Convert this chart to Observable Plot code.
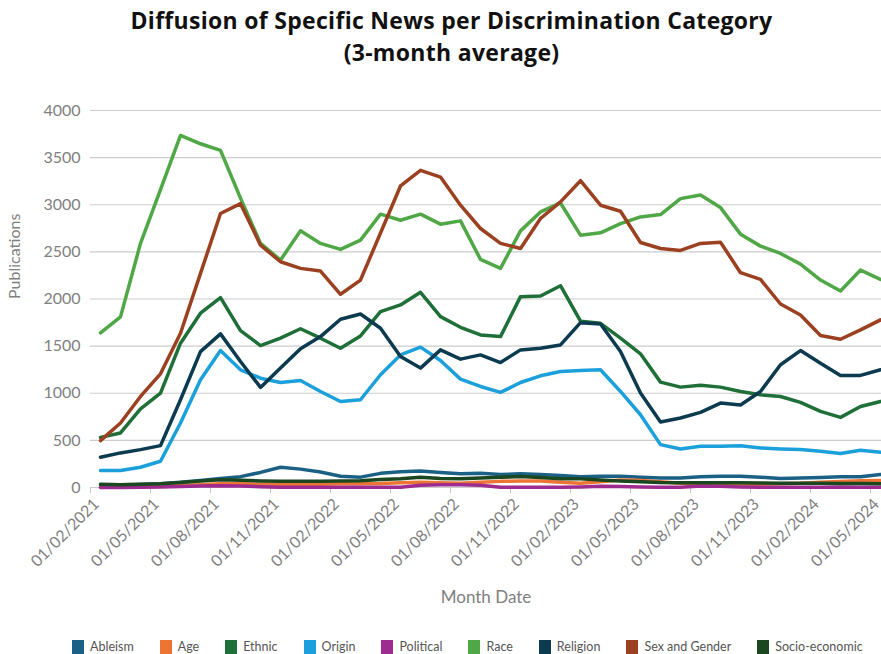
<!DOCTYPE html>
<html>
<head>
<meta charset="utf-8">
<script src="https://cdn.jsdelivr.net/npm/d3@7"></script>
<script src="https://cdn.jsdelivr.net/npm/@observablehq/plot@0.6"></script>
<style>
  html, body { margin: 0; padding: 0; background: #fff; overflow: hidden; }
  #title {
    font-family: "Open Sans", Lato, sans-serif;
    font-weight: 700;
    font-size: 23px;
    letter-spacing: 0.3px;
    line-height: 32px;
    color: #111;
    text-align: center;
    padding-top: 4px;
    padding-left: 22px;
    height: 65px;
  }
  #chart svg { display: block; }
  #legend { margin-left: 72px; margin-top: 10px; width: 809px; }
  div.lg-swatches { font-family: Lato, sans-serif; font-size: 12.5px; color: #555; min-height: 0; margin: 0; flex-wrap: nowrap; white-space: nowrap; }
  div.lg-swatches .lg-swatch { margin-right: 26px; }
  div.lg-swatches .lg-swatch > svg { margin-right: 6px; }
</style>
</head>
<body>
<div id="title">Diffusion of Specific News per Discrimination Category<br>(3-month average)</div>
<div id="chart"></div>
<div id="legend"></div>
<script>
// Monthly points (3-month rolling average of publications)
const months = [
  "01/02/2021","01/03/2021","01/04/2021","01/05/2021","01/06/2021","01/07/2021","01/08/2021","01/09/2021",
  "01/10/2021","01/11/2021","01/12/2021","01/01/2022","01/02/2022","01/03/2022","01/04/2022","01/05/2022",
  "01/06/2022","01/07/2022","01/08/2022","01/09/2022","01/10/2022","01/11/2022","01/12/2022","01/01/2023",
  "01/02/2023","01/03/2023","01/04/2023","01/05/2023","01/06/2023","01/07/2023","01/08/2023","01/09/2023",
  "01/10/2023","01/11/2023","01/12/2023","01/01/2024","01/02/2024","01/03/2024","01/04/2024","01/05/2024"
];

// Axis labels shown every three months
const tickMonths = [
  "01/02/2021","01/05/2021","01/08/2021","01/11/2021","01/02/2022","01/05/2022","01/08/2022",
  "01/11/2022","01/02/2023","01/05/2023","01/08/2023","01/11/2023","01/02/2024","01/05/2024"
];
const yTicks = [0, 500, 1000, 1500, 2000, 2500, 3000, 3500, 4000];

const categories = ["Ableism","Age","Ethnic","Origin","Political","Race","Religion","Sex and Gender","Socio-economic"];
const colors = ["#1b6185","#ec7434","#1e6f38","#1ba0db","#9e2b8f","#4fa845","#0c3a4e","#9b4121","#1a4620"];

const ableism = [30,28,32,40,55,75,95,115,160,215,195,165,120,110,150,168,175,160,145,152,
                 138,145,138,127,113,120,120,109,102,102,113,120,120,109,95,102,106,113,113,138];
const age = [5,5,8,12,20,30,40,40,35,30,30,35,40,40,42,50,55,50,45,55,
             65,70,68,55,45,60,80,75,60,45,40,38,35,35,40,45,55,65,72,75];
const ethnic = [532,579,833,1002,1531,1849,2014,1665,1506,1584,1684,1584,1478,1608,1866,1937,2071,1813,1700,1619,
                1601,2025,2032,2141,1765,1742,1584,1418,1118,1065,1086,1065,1019,984,966,903,808,744,860,913];
const origin = [180,180,215,279,684,1143,1453,1249,1160,1114,1136,1019,913,931,1196,1407,1489,1347,1150,1072,
                1009,1114,1185,1231,1242,1249,1019,772,455,409,437,437,444,420,409,402,384,360,395,374];
const political = [0,0,2,5,10,15,18,15,8,2,2,2,2,2,2,2,25,28,28,25,
                   2,2,2,2,5,12,10,5,2,2,15,12,5,2,2,2,2,5,2,2];
const race = [1640,1810,2590,3160,3735,3647,3577,3070,2590,2413,2723,2590,2526,2624,2900,2836,2900,2794,2829,2420,
              2325,2723,2924,3019,2677,2702,2800,2871,2896,3065,3104,2970,2688,2561,2483,2370,2201,2085,2307,2208];
const religion = [321,367,402,444,931,1442,1630,1337,1062,1267,1473,1601,1785,1841,1690,1390,1267,1460,1362,1407,
                  1326,1460,1478,1513,1749,1735,1442,1002,695,737,797,896,875,1019,1302,1453,1319,1189,1189,1249];
const sexGender = [497,684,966,1206,1637,2272,2907,3012,2571,2395,2325,2296,2050,2201,2700,3199,3365,3294,2995,2748,
                   2590,2536,2854,3030,3255,2995,2931,2600,2536,2515,2590,2603,2279,2208,1947,1831,1612,1573,1672,1778];
const socioEconomic = [35,28,35,40,52,68,82,78,70,66,66,66,70,72,85,94,108,96,94,100,
                       108,118,105,92,92,80,70,60,52,50,50,50,50,48,45,45,45,42,42,40];

const seriesValues = [ableism, age, ethnic, origin, political, race, religion, sexGender, socioEconomic];

// Long-format table for the line mark
const rows = categories.flatMap((category, s) =>
  months.map((month, i) => ({category, month, value: seriesValues[s][i]}))
);

const grey = "#7f7f7f";

const chart = Plot.plot({
  width: 881,
  height: 560,
  marginLeft: 90,
  marginRight: 0,
  marginTop: 41,
  marginBottom: 142,
  style: {fontFamily: "Lato, sans-serif", fontSize: "16px", color: grey, overflow: "visible"},
  x: {type: "point", domain: months, range: [90, 890], padding: 0.5, align: 0.5, label: null},
  y: {domain: [0, 4000], label: null},
  color: {domain: categories, range: colors},
  marks: [
    Plot.gridY(yTicks, {stroke: "#cccccc", strokeOpacity: 1, strokeWidth: 1.2}),
    Plot.axisY(yTicks, {tickSize: 0, tickPadding: 10, tickFormat: d => String(d), fill: grey, fontSize: 16}),
    Plot.axisX(tickMonths, {tickSize: 6, tickFormat: () => "", dx: -10, stroke: "#c4c4c4"}),
    Plot.axisX(tickMonths, {tickSize: 0, tickPadding: 14, tickRotate: -45, dx: -4, fill: grey, fontSize: 16}),
    Plot.line(rows, {x: "month", y: "value", z: "category", stroke: "category", strokeWidth: 3.5}),
    Plot.text(["Month Date"], {frameAnchor: "bottom", dy: 115, fill: grey, fontSize: 17}),
    Plot.text(["Publications"], {frameAnchor: "left", dx: -76, rotate: -90, fill: grey, fontSize: 16})
  ]
});
document.getElementById("chart").appendChild(chart);

const legend = Plot.legend({
  color: {type: "ordinal", domain: categories, range: colors},
  swatchWidth: 12,
  swatchHeight: 14,
  className: "lg"
});
document.getElementById("legend").appendChild(legend);
</script>
</body>
</html>
